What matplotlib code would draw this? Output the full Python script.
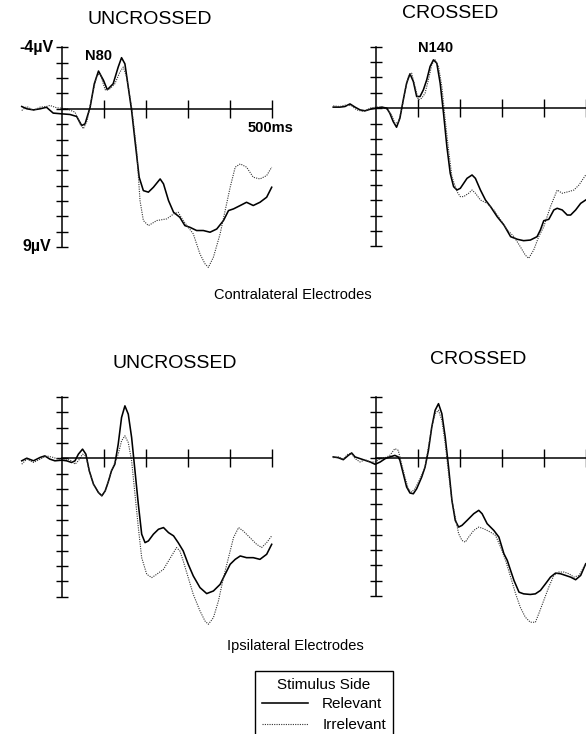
import numpy as np
import matplotlib
matplotlib.use("Agg")
import matplotlib.pyplot as plt

plt.rcParams['font.family'] = ['Liberation Sans', 'DejaVu Sans']

# ERP waveforms (ms, microvolts; negative plotted upward)
# contralateral, uncrossed
cu_rel_t = [-96, -84, -68, -52, -37, -21, 0, 19, 35, 47, 55, 67, 77, 87, 99, 108, 122,
            134, 142, 150, 158, 166, 174, 184, 194, 206, 218, 234, 242, 254, 266, 281,
            293, 305, 321, 337, 353, 369, 385, 397, 409, 425, 440, 456, 472, 488, 500]
cu_rel_v = [-0.15, 0, 0.07, 0, -0.1, 0.28, 0.33, 0.37, 0.5, 1.09, 0.98, -0.1, -1.63, -2.46,
            -1.85, -1.24, -1.63, -2.72, -3.33, -2.93, -1.41, 0.11, 2.07, 4.46, 5.33, 5.43,
            5.11, 4.57, 4.89, 5.98, 6.74, 7.07, 7.61, 7.72, 7.93, 7.93, 8.04, 7.83, 7.28,
            6.63, 6.52, 6.3, 6.09, 6.3, 6.09, 5.76, 5.11]
cu_irr_t = [-96, -84, -68, -52, -37, -29, -13, 11, 31, 43, 51, 60, 71, 83, 91, 103, 114,
            126, 138, 146, 154, 166, 178, 186, 194, 206, 226, 250, 266, 277, 289, 301,
            313, 329, 341, 349, 361, 377, 389, 401, 413, 425, 440, 456, 472, 488, 500]
cu_irr_v = [0.11, -0.15, 0.11, -0.11, -0.15, -0.22, -0.07, 0, 0.22, 0.98, 1.3, 0.76, -0.76,
            -2.17, -2.28, -1.24, -1.3, -1.63, -2.39, -2.72, -2.07, -0.11, 2.72, 5.98, 7.28,
            7.61, 7.28, 7.17, 6.85, 6.74, 7.28, 7.72, 8.15, 9.46, 10.1, 10.33, 9.67, 8.15,
            6.63, 5.11, 3.8, 3.59, 3.8, 4.46, 4.57, 4.35, 3.8]

# contralateral, crossed
cc_rel_t = [-102, -86, -74, -62, -50, -38, -26, -14, 0, 14, 26, 33, 41, 49, 57, 65, 73, 81,
            89, 97, 105, 113, 121, 129, 137, 145, 153, 161, 169, 177, 185, 193, 201, 217,
            229, 237, 249, 261, 273, 289, 305, 321, 337, 352, 368, 384, 392, 400, 412,
            424, 432, 444, 456, 464, 476, 488, 500]
cc_rel_v = [-0.07, -0.07, -0.11, -0.28, -0.07, 0.11, 0.17, 0.07, 0, -0.07, 0, 0.33, 0.87,
            1.24, 0.65, -0.54, -1.63, -2.24, -1.74, -0.76, -0.76, -1.2, -1.85, -2.72, -3.15,
            -2.93, -1.63, 0.33, 2.5, 4.24, 5.11, 5.33, 5.22, 4.57, 4.35, 4.57, 5.33, 5.98,
            6.41, 7.07, 7.61, 8.37, 8.54, 8.63, 8.59, 8.37, 7.93, 7.33, 7.24, 6.63, 6.52,
            6.63, 6.96, 6.96, 6.63, 6.2, 5.98]
cc_irr_t = [-102, -86, -70, -58, -46, -30, -14, 0, 14, 26, 37, 45, 53, 61, 69, 77, 85, 93,
            101, 109, 117, 125, 133, 141, 149, 157, 165, 173, 181, 193, 201, 209, 221, 229,
            237, 249, 265, 281, 297, 313, 329, 344, 356, 364, 376, 388, 400, 416, 432, 444,
            460, 472, 484, 500]
cc_irr_v = [-0.15, -0.11, -0.22, -0.15, 0.11, 0.22, 0, -0.07, -0.07, 0.07, 0.43, 0.98, 0.93,
            0.11, -1.09, -2.07, -2.28, -1.41, -0.54, -0.65, -0.98, -1.85, -2.83, -3.15,
            -2.72, -1.41, 0.76, 2.72, 4.46, 5.43, 5.76, 5.76, 5.54, 5.33, 5.54, 5.98, 6.2,
            6.63, 7.28, 7.93, 8.37, 9.02, 9.57, 9.78, 9.24, 8.37, 7.72, 6.41, 5.33, 5.54,
            5.43, 5.33, 5.0, 4.35]

# ipsilateral, uncrossed
iu_rel_t = [-96, -84, -68, -52, -41, -29, -17, 0, 11, 23, 31, 39, 49, 57, 65, 75, 87, 95,
            103, 111, 118, 126, 134, 142, 150, 158, 166, 174, 182, 190, 198, 206, 218, 230,
            242, 254, 266, 277, 289, 301, 313, 329, 345, 361, 377, 389, 401, 413, 425, 440,
            456, 472, 488, 500]
iu_rel_v = [0.15, -0.02, 0.15, -0.07, -0.17, 0.04, 0.15, 0.11, 0.15, 0.26, 0.15, -0.28,
            -0.61, -0.28, 0.8, 1.67, 2.22, 2.43, 2.11, 1.46, 0.8, 0.37, -0.93, -2.67, -3.43,
            -2.89, -1.37, 0.8, 2.98, 4.93, 5.48, 5.37, 4.93, 4.61, 4.5, 4.83, 5.04, 5.48,
            6.02, 6.89, 7.65, 8.41, 8.8, 8.63, 8.2, 7.54, 6.89, 6.57, 6.35, 6.46, 6.46, 6.57,
            6.24, 5.59]
iu_irr_t = [-96, -84, -68, -52, -37, -21, -9, 0, 11, 23, 31, 39, 49, 57, 65, 75, 87, 95,
            103, 111, 118, 126, 134, 142, 150, 158, 166, 174, 182, 190, 202, 214, 226, 242,
            254, 266, 273, 281, 289, 301, 313, 329, 341, 349, 361, 373, 385, 397, 409, 421,
            432, 448, 464, 476, 488, 500]
iu_irr_v = [0.37, 0.04, 0.26, 0.04, -0.17, -0.07, 0.04, 0.04, 0.04, 0.15, 0.37, 0.15,
            -0.28, -0.17, 0.8, 1.67, 2.22, 2.43, 2.11, 1.46, 0.8, 0.26, -0.28, -1.15, -1.48,
            -1.04, 0.15, 2.33, 4.5, 6.46, 7.54, 7.76, 7.54, 7.22, 6.67, 6.13, 5.8, 6.02,
            6.67, 7.76, 8.85, 9.93, 10.59, 10.8, 10.37, 9.28, 7.76, 6.46, 5.15, 4.5, 4.72,
            5.15, 5.59, 5.8, 5.48, 5.04]

# ipsilateral, crossed
ic_rel_t = [-102, -90, -78, -66, -58, -50, -38, -26, -14, -2, 10, 22, 33, 45, 53, 57, 65,
            73, 81, 89, 97, 109, 117, 125, 133, 141, 149, 157, 165, 173, 181, 189, 197, 205,
            217, 233, 245, 253, 265, 281, 293, 305, 313, 321, 329, 341, 352, 368, 380, 392,
            404, 416, 428, 440, 452, 464, 476, 488, 500]
ic_rel_v = [-0.07, -0.02, 0.11, -0.17, -0.33, -0.07, 0.04, 0.15, 0.26, 0.41, 0.26, 0.04,
            -0.07, -0.17, -0.07, 0.15, 1.02, 1.89, 2.28, 2.33, 2.0, 1.24, 0.59, -0.5, -2.02,
            -3.11, -3.54, -2.89, -1.37, 0.59, 2.76, 4.07, 4.5, 4.39, 4.07, 3.63, 3.41, 3.63,
            4.28, 4.72, 5.15, 6.24, 6.67, 7.33, 7.98, 8.74, 8.85, 8.89, 8.85, 8.63, 8.2,
            7.76, 7.5, 7.54, 7.65, 7.76, 7.93, 7.65, 6.89]
ic_irr_t = [-102, -90, -78, -66, -58, -50, -38, -26, -14, -2, 10, 22, 33, 45, 53, 61, 69,
            77, 85, 93, 105, 117, 125, 133, 141, 149, 157, 165, 173, 181, 189, 197, 205, 213,
            221, 233, 245, 257, 273, 285, 297, 309, 321, 333, 344, 356, 368, 380, 388, 400,
            412, 424, 436, 448, 460, 472, 484, 500]
ic_irr_v = [-0.02, -0.07, 0.07, -0.28, -0.28, 0.04, 0.26, 0.11, 0.26, 0.26, 0.04, -0.02,
            -0.17, -0.61, -0.5, 0.37, 1.24, 2.0, 2.22, 2.0, 1.35, 0.59, -0.72, -2.02, -2.89,
            -3.11, -2.46, -0.93, 1.02, 2.76, 3.85, 4.93, 5.37, 5.48, 5.15, 4.72, 4.5, 4.61,
            4.83, 5.04, 5.8, 6.67, 7.76, 8.85, 9.72, 10.37, 10.7, 10.7, 10.15, 9.28, 8.41,
            7.65, 7.43, 7.43, 7.54, 7.76, 7.65, 6.89]

W, H = 586, 734
SX = 0.4194   # px per ms
SY = 15.35    # px per microvolt
XLIM = (-110, 510)
YLIM = (11.3, -4.6)

fig = plt.figure(figsize=(W / 100, H / 100), dpi=100)


def make_axes(x0, y0):
    # x0, y0: pixel position of (0 ms, 0 uV)
    left = x0 + XLIM[0] * SX
    width = (XLIM[1] - XLIM[0]) * SX
    top = y0 + YLIM[1] * SY
    height = (YLIM[0] - YLIM[1]) * SY
    ax = fig.add_axes([left / W, 1 - (top + height) / H, width / W, height / H])
    ax.set_xlim(*XLIM)
    ax.set_ylim(*YLIM)
    ax.patch.set_alpha(0)
    for s in ('top', 'right'):
        ax.spines[s].set_visible(False)
    ax.spines['left'].set_position(('data', 0))
    ax.spines['bottom'].set_position(('data', 0))
    ax.spines['left'].set_bounds(-4, 9)
    ax.spines['bottom'].set_bounds(0, 500)
    for s in ('left', 'bottom'):
        ax.spines[s].set_linewidth(1.1)
    ax.set_xticks([100, 200, 300, 400, 500])
    ax.set_yticks(np.arange(-4, 10))
    ax.tick_params(axis='x', direction='inout', length=13, width=1.0,
                   labelbottom=False)
    ax.tick_params(axis='y', direction='inout', length=8, width=1.0,
                   labelleft=False)
    return ax


def draw(ax, rt, rv, it, iv):
    l1, = ax.plot(rt, rv, color='black', lw=1.15, solid_joinstyle='round')
    l2, = ax.plot(it, iv, color='#333333', lw=0.8, linestyle=(0, (1, 1.1)))
    return l1, l2


ax_cu = make_axes(62, 108.8)
ax_cc = make_axes(376, 108.2)
ax_iu = make_axes(62, 458.5)
ax_ic = make_axes(376, 458.0)

h_rel, h_irr = draw(ax_cu, cu_rel_t, cu_rel_v, cu_irr_t, cu_irr_v)
draw(ax_cc, cc_rel_t, cc_rel_v, cc_irr_t, cc_irr_v)
draw(ax_iu, iu_rel_t, iu_rel_v, iu_irr_t, iu_irr_v)
draw(ax_ic, ic_rel_t, ic_rel_v, ic_irr_t, ic_irr_v)

# axis annotations on the first panel
lab = dict(fontsize=11.5, fontweight='bold', va='center')
ax_cu.annotate('-4\u00b5V', xy=(0, -4), xytext=(-6, 0), textcoords='offset points',
               ha='right', **lab)
ax_cu.annotate('9\u00b5V', xy=(0, 9), xytext=(-8, 0), textcoords='offset points',
               ha='right', **lab)
ax_cu.text(443, 1.25, '500ms', ha='left', fontsize=10.5, fontweight='bold', va='center')
ax_cu.text(55, -3.45, 'N80', ha='left', fontsize=10.5, fontweight='bold', va='center')
ax_cc.text(100, -3.92, 'N140', ha='left', fontsize=10.5, fontweight='bold', va='center')


def ftext(x, y, s, size, **kw):
    fig.text(x / W, 1 - y / H, s, fontsize=size, ha='center', va='center', **kw)


ftext(150, 20, 'UNCROSSED', 14)
ftext(450, 14, 'CROSSED', 14)
ftext(175, 364, 'UNCROSSED', 14)
ftext(478, 360, 'CROSSED', 14)
ftext(293, 295, 'Contralateral Electrodes', 10.5)
ftext(295, 646, 'Ipsilateral Electrodes', 10.5)

# legend box runs off the bottom edge of the page
leg = fig.legend([h_rel, h_irr], ['Relevant', 'Irrelevant'], title='Stimulus Side',
                 loc='upper left', bbox_to_anchor=(255 / W, 1 - 671 / H),
                 fontsize=11, title_fontsize=11, frameon=True, fancybox=False,
                 edgecolor='black', framealpha=1, handlelength=3.0,
                 handletextpad=0.95, borderpad=0.45, labelspacing=0.45,
                 borderaxespad=0)
leg.get_frame().set_linewidth(1.0)
leg._legend_box.sep = 4

fig.savefig('out.png', dpi=100)
